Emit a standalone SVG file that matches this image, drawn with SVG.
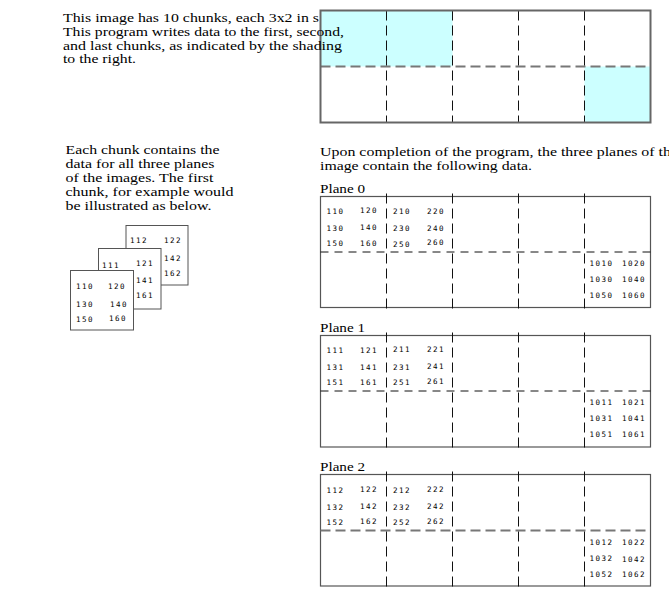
<svg xmlns="http://www.w3.org/2000/svg" width="669" height="603" viewBox="0 0 669 603">
<style>
.t{font-family:"Liberation Serif","Times New Roman",serif;font-size:13.5px;fill:#000}
.n{font-family:"DejaVu Sans Mono","Liberation Mono",monospace;font-size:7.5px;letter-spacing:1.5px;fill:#000}
.frame{fill:none;stroke:#555;stroke-width:1.2}
.frame2{fill:none;stroke:#666;stroke-width:2}
.vd{stroke:#111;stroke-width:1;stroke-dasharray:10 5;fill:none}
.hd{stroke:#111;stroke-width:1;stroke-dasharray:8 6;fill:none}
.hg{stroke:#777;stroke-width:2;stroke-dasharray:10 5;fill:none}
.cy{fill:#ccffff}
.box{fill:#fff;stroke:#555;stroke-width:1}
</style>

<g id="overview-grid">
<rect class="cy" x="320.5" y="10.5" width="132" height="56"/>
<rect class="cy" x="584.5" y="66.5" width="66" height="56"/>
<path class="hg" d="M320.5 66.5H650.5"/>
<path class="vd" d="M386.5 10.5V122.5M452.5 10.5V122.5M518.5 10.5V122.5M584.5 10.5V122.5"/>
<rect class="frame2" x="320.5" y="10.5" width="330" height="112"/>
</g>

<g id="intro-text">
<text class="t" x="63" y="22.3" textLength="256" lengthAdjust="spacingAndGlyphs">This image has 10 chunks, each 3x2 in s</text>
<text class="t" x="63" y="36" textLength="281" lengthAdjust="spacingAndGlyphs">This program writes data to the first, second,</text>
<text class="t" x="63" y="49.7" textLength="279" lengthAdjust="spacingAndGlyphs">and last chunks, as indicated by the shading</text>
<text class="t" x="63" y="63.3" textLength="73" lengthAdjust="spacingAndGlyphs">to the right.</text>
</g>

<g id="chunk-text">
<text class="t" x="65.5" y="153.5" textLength="154" lengthAdjust="spacingAndGlyphs">Each chunk contains the</text>
<text class="t" x="65.5" y="167.5" textLength="149" lengthAdjust="spacingAndGlyphs">data for all three planes</text>
<text class="t" x="65.5" y="181.5" textLength="148" lengthAdjust="spacingAndGlyphs">of the images. The first</text>
<text class="t" x="65.5" y="195.5" textLength="168" lengthAdjust="spacingAndGlyphs">chunk, for example would</text>
<text class="t" x="65.5" y="209.5" textLength="146" lengthAdjust="spacingAndGlyphs">be illustrated as below.</text>
</g>

<g id="chunk-plane2">
<rect class="box" x="126" y="225.5" width="62" height="59.5"/>
<text class="n" x="130" y="243">112</text>
<text class="n" x="164" y="243">122</text>
<text class="n" x="164" y="260.5">142</text>
<text class="n" x="164" y="275.5">162</text>
</g>
<g id="chunk-plane1">
<rect class="box" x="98.5" y="248.5" width="62.5" height="60.5"/>
<text class="n" x="102" y="267.5">111</text>
<text class="n" x="136" y="266">121</text>
<text class="n" x="136" y="282.5">141</text>
<text class="n" x="136" y="297.5">161</text>
</g>
<g id="chunk-plane0">
<rect class="box" x="70.5" y="270.5" width="63" height="59.5"/>
<text class="n" x="76" y="288.5">110</text>
<text class="n" x="108" y="288.5">120</text>
<text class="n" x="76" y="307">130</text>
<text class="n" x="110" y="307">140</text>
<text class="n" x="76" y="322">150</text>
<text class="n" x="109" y="320.5">160</text>
</g>

<g id="result-text">
<text class="t" x="320" y="156" textLength="351" lengthAdjust="spacingAndGlyphs">Upon completion of the program, the three planes of th</text>
<text class="t" x="320" y="170" textLength="212" lengthAdjust="spacingAndGlyphs">image contain the following data.</text>
</g>

<g id="plane0">
<text class="t" x="320" y="193" textLength="45" lengthAdjust="spacingAndGlyphs">Plane 0</text>
<rect class="frame" x="320.5" y="196.5" width="330" height="111"/>
<path class="hd" d="M320.5 252H650.5"/>
<path class="vd" d="M386.5 193.5V310M452.5 193.5V310M518.5 193.5V310M584.5 193.5V310"/>
<text class="n" x="326.5" y="214">110</text><text class="n" x="360" y="213">120</text><text class="n" x="393" y="213.5">210</text><text class="n" x="427" y="213.5">220</text>
<text class="n" x="326.5" y="231">130</text><text class="n" x="360" y="230">140</text><text class="n" x="393" y="231">230</text><text class="n" x="427" y="230.5">240</text>
<text class="n" x="326.5" y="246">150</text><text class="n" x="360" y="246">160</text><text class="n" x="393" y="246.5">250</text><text class="n" x="427" y="245">260</text>
<text class="n" x="589.5" y="265.5">1010</text><text class="n" x="622" y="265.5">1020</text>
<text class="n" x="589.5" y="281.5">1030</text><text class="n" x="622" y="281.5">1040</text>
<text class="n" x="589.5" y="297.5">1050</text><text class="n" x="622" y="297.5">1060</text>
</g>

<g id="plane1">
<text class="t" x="320" y="332" textLength="45" lengthAdjust="spacingAndGlyphs">Plane 1</text>
<rect class="frame" x="320.5" y="335.5" width="330" height="111.5"/>
<path class="hd" d="M320.5 391H650.5"/>
<path class="vd" d="M386.5 332.5V449M452.5 332.5V449M518.5 332.5V449M584.5 332.5V449"/>
<text class="n" x="326.5" y="353">111</text><text class="n" x="360" y="353">121</text><text class="n" x="393" y="352">211</text><text class="n" x="427" y="352">221</text>
<text class="n" x="326.5" y="370">131</text><text class="n" x="360" y="369.5">141</text><text class="n" x="393" y="369.5">231</text><text class="n" x="427" y="368.5">241</text>
<text class="n" x="326.5" y="384.5">151</text><text class="n" x="360" y="384.5">161</text><text class="n" x="393" y="385">251</text><text class="n" x="427" y="383.5">261</text>
<text class="n" x="589.5" y="404.5">1011</text><text class="n" x="622" y="404.5">1021</text>
<text class="n" x="589.5" y="420.5">1031</text><text class="n" x="622" y="420.5">1041</text>
<text class="n" x="589.5" y="436.5">1051</text><text class="n" x="622" y="436.5">1061</text>
</g>

<g id="plane2">
<text class="t" x="320" y="471" textLength="45" lengthAdjust="spacingAndGlyphs">Plane 2</text>
<rect class="frame" x="320.5" y="474.5" width="330" height="111.5"/>
<path class="hg" d="M320.5 530.5H650.5"/>
<path class="vd" d="M386.5 471.5V588M452.5 471.5V588M518.5 471.5V588M584.5 471.5V588"/>
<text class="n" x="326.5" y="493">112</text><text class="n" x="360" y="492">122</text><text class="n" x="393" y="492.5">212</text><text class="n" x="427" y="491.5">222</text>
<text class="n" x="326.5" y="510">132</text><text class="n" x="360" y="509">142</text><text class="n" x="393" y="510">232</text><text class="n" x="427" y="508.5">242</text>
<text class="n" x="326.5" y="525">152</text><text class="n" x="360" y="524">162</text><text class="n" x="393" y="524.5">252</text><text class="n" x="427" y="524">262</text>
<text class="n" x="589.5" y="544.5">1012</text><text class="n" x="622" y="545">1022</text>
<text class="n" x="589.5" y="561">1032</text><text class="n" x="622" y="561.5">1042</text>
<text class="n" x="589.5" y="577">1052</text><text class="n" x="622" y="577">1062</text>
</g>
</svg>
